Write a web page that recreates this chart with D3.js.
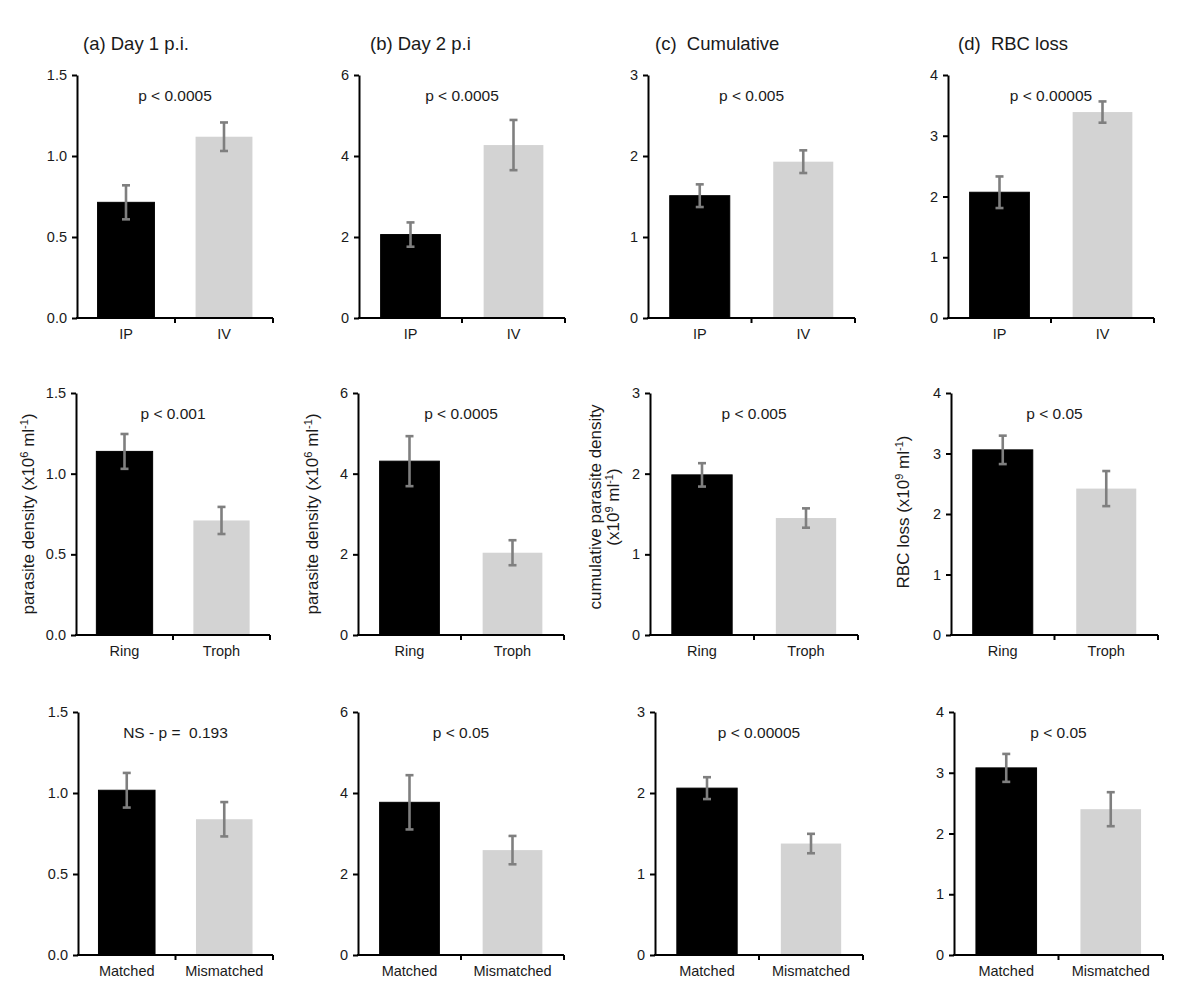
<!DOCTYPE html>
<html>
<head>
<meta charset="utf-8">
<script src="https://cdn.jsdelivr.net/npm/d3@7"></script>
<style>
  html, body { margin: 0; padding: 0; background: #fff; }
  svg { display: block; }
  text { font-family: "Liberation Sans", Arial, Helvetica, sans-serif; fill: #1a1a1a; }
</style>
</head>
<body>
<svg id="chart" width="1200" height="1001"></svg>
<script>
// ---------------- DATA ----------------
const columnTitles = ["(a) Day 1 p.i.", "(b) Day 2 p.i", "(c)  Cumulative", "(d)  RBC loss"];
const rowCategories = [["IP", "IV"], ["Ring", "Troph"], ["Matched", "Mismatched"]];
const columnYMax = [1.5, 6, 3, 4];
const columnYTicks = [[0, 0.5, 1.0, 1.5], [0, 2, 4, 6], [0, 1, 2, 3], [0, 1, 2, 3, 4]];

// mean values per column, for each row (black bar, grey bar)
const meansRoute = [[0.714, 1.119], [2.06, 4.27], [1.51, 1.93], [2.07, 3.39]];
const errRoute   = [[0.105, 0.088], [0.30, 0.62], [0.14, 0.14], [0.26, 0.175]];
const meansStage = [[1.138, 0.71], [4.31, 2.04], [1.985, 1.45], [3.06, 2.42]];
const errStage   = [[0.108, 0.084], [0.62, 0.31], [0.145, 0.12], [0.235, 0.29]];
const meansMatch = [[1.017, 0.838], [3.77, 2.59], [2.06, 1.376], [3.08, 2.40]];
const errMatch   = [[0.107, 0.106], [0.67, 0.35], [0.135, 0.12], [0.23, 0.28]];

const pRoute = ["p < 0.0005", "p < 0.0005", "p < 0.005", "p < 0.00005"];
const pStage = ["p < 0.001", "p < 0.0005", "p < 0.005", "p < 0.05"];
const pMatch = ["NS - p =  0.193", "p < 0.05", "p < 0.00005", "p < 0.05"];

const rowMeans = [meansRoute, meansStage, meansMatch];
const rowErrs = [errRoute, errStage, errMatch];
const rowP = [pRoute, pStage, pMatch];

// ---------------- LAYOUT ----------------
const rowTops = [75, 393, 712];
const rowZeros = [318, 635, 955];
const axisLeft = [[77, 359, 648, 948], [76, 358, 650, 951], [78, 358, 655, 954]];
const axisRight = [[273, 565, 855, 1154], [270, 564, 858, 1158], [273, 564, 863, 1163]];
const titleX = [83, 370, 655, 958];
const barColors = ["#000000", "#d3d3d3"];
const errColor = "#7f7f7f";

const svg = d3.select("#chart");

// column titles
svg.selectAll("text.title").data(columnTitles).join("text")
  .attr("class", "title")
  .attr("x", (d, i) => titleX[i])
  .attr("y", 50)
  .attr("font-size", 18.5)
  .style("white-space", "pre")
  .attr("xml:space", "preserve")
  .text(d => d);

for (let r = 0; r < 3; r++) {
  for (let c = 0; c < 4; c++) {
    const x0 = axisLeft[r][c], x1 = axisRight[r][c];
    const y = d3.scaleLinear().domain([0, columnYMax[c]]).range([rowZeros[r], rowTops[r]]);
    const x = d3.scaleBand().domain(rowCategories[r]).range([x0, x1])
      .paddingInner(0.42).paddingOuter(0.21);
    const g = svg.append("g");
    const vals = rowMeans[r][c].map((m, i) => ({cat: rowCategories[r][i], m, e: rowErrs[r][c][i], color: barColors[i]}));

    // bars
    g.selectAll("rect").data(vals).join("rect")
      .attr("x", d => x(d.cat))
      .attr("width", x.bandwidth())
      .attr("y", d => y(d.m))
      .attr("height", d => y(0) - y(d.m))
      .attr("fill", d => d.color)
      .attr("stroke", d => d.color === "#000000" ? "#000" : "none")
      .attr("stroke-width", 1);

    // error bars
    const eb = g.selectAll("g.err").data(vals).join("g").attr("class", "err")
      .attr("stroke", errColor).attr("stroke-width", 2.6).attr("fill", "none");
    const cx = d => x(d.cat) + x.bandwidth() / 2;
    eb.append("line")
      .attr("x1", cx).attr("x2", cx)
      .attr("y1", d => y(d.m + d.e)).attr("y2", d => y(d.m - d.e));
    eb.append("line")
      .attr("x1", d => cx(d) - 4).attr("x2", d => cx(d) + 4)
      .attr("y1", d => y(d.m + d.e)).attr("y2", d => y(d.m + d.e));
    eb.append("line")
      .attr("x1", d => cx(d) - 4).attr("x2", d => cx(d) + 4)
      .attr("y1", d => y(d.m - d.e)).attr("y2", d => y(d.m - d.e));

    // y axis
    const fmt = c === 0 ? d3.format(".1f") : d3.format("d");
    const ya = g.append("g").attr("transform", `translate(${x0},0)`)
      .call(d3.axisLeft(y).tickValues(columnYTicks[c]).tickFormat(fmt).tickSize(5).tickSizeOuter(0).tickPadding(5));
    ya.select(".domain").attr("stroke", "#000").attr("stroke-width", 2);
    ya.selectAll(".tick line").attr("stroke", "#000").attr("stroke-width", 2);
    ya.selectAll(".tick text").attr("font-size", 14.5).attr("fill", "#1a1a1a")
      .style("font-family", "'Liberation Sans', Arial, sans-serif");

    // x axis
    const xa = g.append("g").attr("transform", `translate(0,${rowZeros[r]})`)
      .call(d3.axisBottom(x).tickSize(0).tickPadding(11));
    xa.select(".domain").remove();
    xa.selectAll(".tick text").attr("font-size", 14.5).attr("fill", "#1a1a1a")
      .style("font-family", "'Liberation Sans', Arial, sans-serif");
    g.append("line").attr("x1", x0 - 1).attr("x2", x1).attr("y1", rowZeros[r]).attr("y2", rowZeros[r])
      .attr("stroke", "#000").attr("stroke-width", 2);
    const mid = x0 + (x1 - x0) / 2;
    g.selectAll("line.xt").data([mid, x1]).join("line").attr("class", "xt")
      .attr("x1", d => d).attr("x2", d => d)
      .attr("y1", rowZeros[r]).attr("y2", rowZeros[r] + 5)
      .attr("stroke", "#000").attr("stroke-width", 2);

    // p value
    g.append("text")
      .attr("x", mid).attr("y", rowTops[r] + 26)
      .attr("text-anchor", "middle")
      .attr("font-size", 15.5)
      .attr("xml:space", "preserve")
      .style("white-space", "pre")
      .text(rowP[r][c]);
  }
}

// y axis labels (row 2)
function superLabel(sel, parts) {
  parts.forEach(p => {
    const t = sel.append("tspan").text(p.t);
    if (p.sup) t.attr("font-size", 11).attr("dy", -6);
    if (p.down) t.attr("dy", 6);
  });
}
const yLab = [
  {cx: 28, cy: 514, lines: [[{t: "parasite density (x10"}, {t: "6", sup: true}, {t: " ml", down: true}, {t: "-1", sup: true}, {t: ")", down: true}]]},
  {cx: 312, cy: 514, lines: [[{t: "parasite density (x10"}, {t: "6", sup: true}, {t: " ml", down: true}, {t: "-1", sup: true}, {t: ")", down: true}]]},
  {cx: 595, cy: 507, lines: [[{t: "cumulative parasite density"}], [{t: "(x10"}, {t: "9", sup: true}, {t: " ml", down: true}, {t: "-1", sup: true}, {t: ")", down: true}]]},
  {cx: 903, cy: 512, lines: [[{t: "RBC loss (x10"}, {t: "9", sup: true}, {t: " ml", down: true}, {t: "-1", sup: true}, {t: ")", down: true}]]}
];
yLab.forEach(l => {
  l.lines.forEach((parts, k) => {
    const t = svg.append("text")
      .attr("transform", `translate(${l.cx + k * 18 + 6},${l.cy}) rotate(-90)`)
      .attr("text-anchor", "middle")
      .attr("font-size", 17);
    superLabel(t, parts);
  });
});
</script>
</body>
</html>
